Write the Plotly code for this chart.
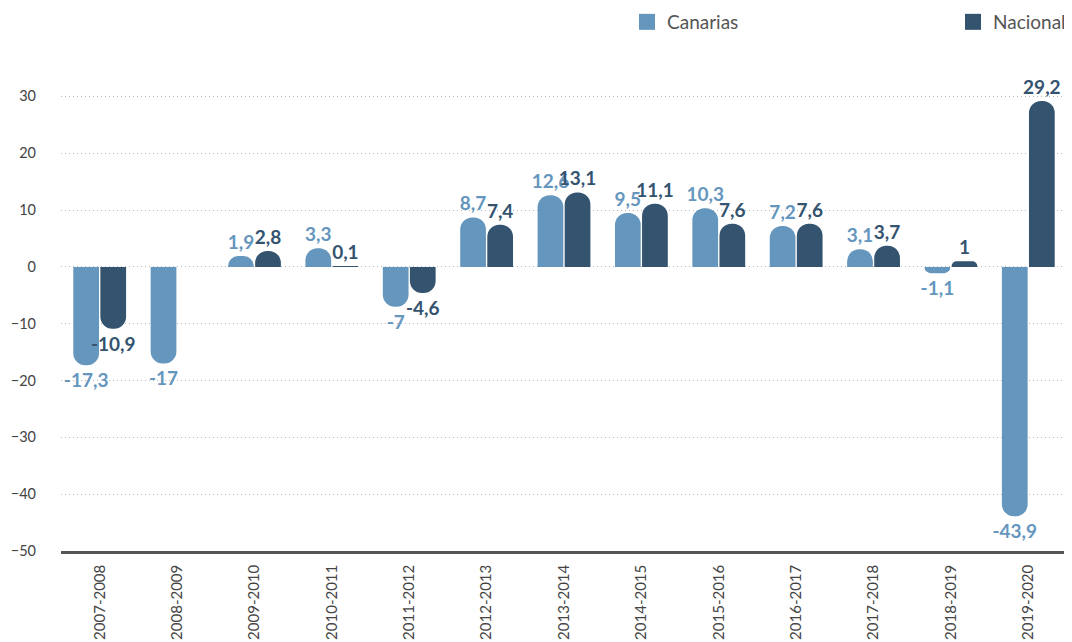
import plotly.graph_objects as go

categories = ["2007-2008", "2008-2009", "2009-2010", "2010-2011", "2011-2012", "2012-2013",
              "2013-2014", "2014-2015", "2015-2016", "2016-2017", "2017-2018", "2018-2019", "2019-2020"]
canarias = [-17.3, -17, 1.9, 3.3, -7, 8.7, 12.6, 9.5, 10.3, 7.2, 3.1, -1.1, -43.9]
nacional = [-10.9, None, 2.8, 0.1, -4.6, 7.4, 13.1, 11.1, 7.6, 7.6, 3.7, 1, 29.2]
y_ticks = [-50, -40, -30, -20, -10, 0, 10, 20, 30]

C_CAN = "#6596BD"
C_NAC = "#33536F"
FONT = "Lato"

# page body has an 8px default margin; figure is sized to fill the rest of the window
W, H = 1064, 634


def fmt(v):
    return "" if v is None else f"{v:g}".replace(".", ",")


fig = go.Figure()
series = [("Canarias", canarias, C_CAN, "legend"), ("Nacional", nacional, C_NAC, "legend2")]
for name, vals, col, leg in series:
    fig.add_trace(go.Bar(
        x=categories, y=vals, name=name, showlegend=False,
        marker=dict(color=col, cornerradius=13, line=dict(width=0)),
        text=[fmt(v) for v in vals], textposition="outside", cliponaxis=False,
        constraintext="none",
        textfont=dict(family=FONT, size=19, color=col, weight="bold"),
        hoverinfo="x+y",
    ))
    fig.add_trace(go.Scatter(
        x=[None], y=[None], mode="markers", name=name,
        marker=dict(symbol="square", size=20, color=col),
        showlegend=True, legend=leg,
    ))

legend_common = dict(xref="container", yref="container", xanchor="left", yanchor="middle",
                     y=1 - 14 / H, bgcolor="rgba(0,0,0,0)",
                     font=dict(family=FONT, size=19, color="#555555"),
                     itemsizing="trace")

fig.update_layout(
    width=W, height=H,
    margin=dict(l=53, r=5, t=60, b=91, autoexpand=False),
    paper_bgcolor="white", plot_bgcolor="white",
    barmode="group", bargap=0.30, bargroupgap=0.05,
    font=dict(family=FONT, color="#555555"),
    showlegend=True,
    legend=dict(x=619 / W, **legend_common),
    legend2=dict(x=945 / W, **legend_common),
)
fig.update_yaxes(
    range=[-50, 35], tickvals=y_ticks, showgrid=True, gridcolor="#b8b8b8",
    griddash="1px,3px", gridwidth=1, zeroline=False,
    tickfont=dict(family=FONT, size=14.5, color="#444444"),
    ticklabelstandoff=24, showline=False, automargin=False,
)
fig.update_xaxes(
    tickangle=-90, showline=True, linecolor="#555555", linewidth=2.5,
    tickfont=dict(family=FONT, size=15, color="#444444"),
    ticklabelstandoff=5,
    showgrid=False, ticks="", automargin=False,
)
fig.write_html("out.html")
